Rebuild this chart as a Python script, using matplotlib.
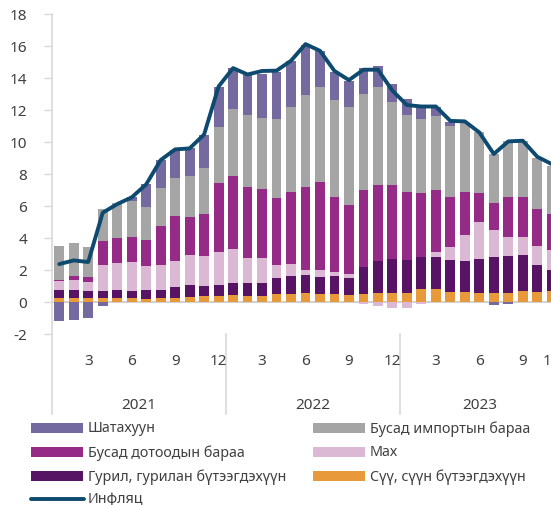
import matplotlib
matplotlib.use('Agg')
import matplotlib.pyplot as plt
import numpy as np
from matplotlib.patches import Rectangle
from matplotlib.lines import Line2D
import matplotlib.transforms as mtransforms

# ---------------- data (Jan 2021 .. Nov 2023) ----------------
months = list(range(1, 36))
years = ['2021', '2022', '2023']
year_spans = [(0.5, 12.5), (12.5, 24.5), (24.5, 35.5)]
tick_months = [3, 6, 9, 12, 15, 18, 21, 24, 27, 30, 33, 35]
tick_labels = ['3', '6', '9', '12', '3', '6', '9', '12', '3', '6', '9', '11']

milk = [.25, .25, .25, .25, .21, .21, .19, .21, .25, .31, .33, .35, .40, .35, .35, .46, .46, .53,
        .46, .46, .42, .46, .56, .56, .56, .81, .77, .60, .60, .56, .56, .56, .67, .60, .65]
flour = [.46, .46, .42, .42, .50, .46, .52, .54, .65, .71, .65, .69, .79, .82, .82, 1.00, 1.12, 1.12,
         1.08, 1.14, 1.04, 1.71, 1.98, 2.11, 2.04, 1.98, 2.02, 2.00, 1.94, 2.11, 2.23, 2.29, 2.23, 1.67, 1.35]
meat = [.58, .64, .58, 1.62, 1.71, 1.79, 1.54, 1.52, 1.64, 1.92, 1.85, 2.04, 2.08, 1.54, 1.58, .83, .77, .36,
        .43, .26, .25, -.13, -.27, -.42, -.42, -.13, .31, .80, 1.65, 2.29, 1.69, 1.21, 1.16, 1.21, 1.21]
domestic = [.09, .23, .27, 1.50, 1.54, 1.58, 1.60, 2.46, 2.81, 2.35, 2.65, 4.32, 4.58, 4.46, 4.31, 4.17, 4.50, 5.16,
            5.51, 4.71, 4.34, 4.79, 4.75, 4.62, 4.26, 3.99, 3.88, 3.17, 2.67, 1.82, 1.69, 2.51, 2.51, 2.29, 2.25]
imported = [2.13, 2.09, 1.92, 2.02, 2.23, 2.27, 2.09, 2.40, 2.36, 2.54, 2.85, 3.52, 4.21, 4.48, 4.44, 4.96, 5.30, 5.73,
            5.92, 6.05, 6.12, 6.02, 6.11, 5.21, 4.83, 4.62, 4.65, 4.43, 4.31, 3.80, 3.06, 3.49, 3.49, 3.19, 3.04]
fuel = [-1.19, -1.13, -1.00, -.27, 0, .22, 1.44, 1.73, 1.77, 1.80, 2.09, 2.50, 2.52, 2.52, 2.75, 2.96, 2.91, 3.17,
        2.25, 1.75, 1.64, 1.60, 1.31, 1.08, .98, .70, .52, .25, 0, 0, -.23, -.12, 0, 0, 0]
inflation = [2.35, 2.58, 2.48, 5.56, 6.10, 6.52, 7.33, 8.85, 9.52, 9.58, 10.45, 13.45, 14.60, 14.20, 14.42, 14.44,
             15.06, 16.10, 15.68, 14.42, 13.85, 14.50, 14.50, 13.19, 12.29, 12.20, 12.20, 11.30, 11.27, 10.58,
             9.23, 10.02, 10.06, 9.06, 8.60]

series_names = ['Сүү, сүүн бүтээгдэхүүн', 'Гурил, гурилан бүтээгдэхүүн', 'Мах',
                'Бусад дотоодын бараа', 'Бусад импортын бараа', 'Шатахуун']
series_vals = [milk, flour, meat, domestic, imported, fuel]
colors = ['#e8993a', '#571465', '#dbb9d4', '#952b87', '#a5a5a5', '#756aa0']
line_color = '#0e4a6f'
line_name = 'Инфляц'

plt.rcParams['font.family'] = ['Noto Sans', 'DejaVu Sans']
txt_color = '#404040'

W, H = 551, 506
fig = plt.figure(figsize=(W / 100, H / 100), dpi=100)

# axes: x from 52px to 559px (beyond right edge, as in the cropped reference), y from 14.7px (18) to 334.7px (-2)
left_px, right_px, top_px, bot_px = 52, 559, 14.7, 334.7
ax = fig.add_axes([left_px / W, 1 - bot_px / H, (right_px - left_px) / W, (bot_px - top_px) / H])
ax.set_xlim(0.5, 35.5)
ax.set_ylim(-2, 18)

x = np.array(months, dtype=float)
pos = np.zeros(len(x))
neg = np.zeros(len(x))
for vals, c in zip(series_vals, colors):
    v = np.array(vals, dtype=float)
    bottom = np.where(v >= 0, pos, neg)
    ax.bar(x, v, bottom=bottom, width=0.68, color=c, edgecolor='none', zorder=2)
    pos = pos + np.where(v >= 0, v, 0)
    neg = neg + np.where(v < 0, v, 0)

ax.plot(x, inflation, color=line_color, lw=2.8, solid_joinstyle='round', solid_capstyle='round', zorder=3)

ax.axhline(0, color='#c8c8c8', lw=1.2, zorder=1)

for s in ['top', 'right', 'bottom', 'left']:
    ax.spines[s].set_visible(False)

# left axis line extended down through category labels
ax.add_line(Line2D([0, 0], [1, -0.25], transform=ax.transAxes, color='#d9d9d9', lw=1.2, clip_on=False))
trans = mtransforms.blended_transform_factory(ax.transData, ax.transAxes)
for (a, b) in year_spans[1:]:
    ax.add_line(Line2D([a, a], [0, -0.25], transform=trans, color='#d9d9d9', lw=1.2, clip_on=False))

ax.set_yticks(range(-2, 19, 2))
ax.set_yticklabels([str(t) for t in range(-2, 19, 2)])
ax.tick_params(axis='y', length=6, width=1, color='#d9d9d9', pad=12, labelsize=11, labelcolor=txt_color)
ax.set_xticks([])

for m, lab in zip(tick_months, tick_labels):
    ax.text(m, -0.085, lab, transform=trans, ha='center', va='center', fontsize=11, color=txt_color, clip_on=False)
for yr, (a, b) in zip(years, year_spans):
    ax.text((a + b) / 2, -0.22, yr, transform=trans, ha='center', va='center', fontsize=11, color=txt_color, clip_on=False)

# legend (manual, in pixel coordinates)
def fx(px):
    return px / W
def fy(py):
    return 1 - py / H

legend_items = [
    ('patch', colors[5], series_names[5], 31, 429),
    ('patch', colors[4], series_names[4], 313, 429),
    ('patch', colors[3], series_names[3], 31, 453),
    ('patch', colors[2], series_names[2], 313, 453),
    ('patch', colors[1], series_names[1], 31, 477),
    ('patch', colors[0], series_names[0], 313, 477),
    ('line', line_color, line_name, 31, 500),
]
for kind, c, name, px, py in legend_items:
    if kind == 'patch':
        fig.patches.append(Rectangle((fx(px), fy(py + 5.3)), 52 / W, 10.5 / H, transform=fig.transFigure,
                                     facecolor=c, edgecolor='none'))
    else:
        fig.lines.append(Line2D([fx(px), fx(px + 53)], [fy(py), fy(py)], transform=fig.transFigure,
                                color=c, lw=2.8, solid_capstyle='round'))
    fig.text(fx(px + 57), fy(py), name, ha='left', va='center', fontsize=10.3, color=txt_color)

fig.savefig('out.png', dpi=100)
